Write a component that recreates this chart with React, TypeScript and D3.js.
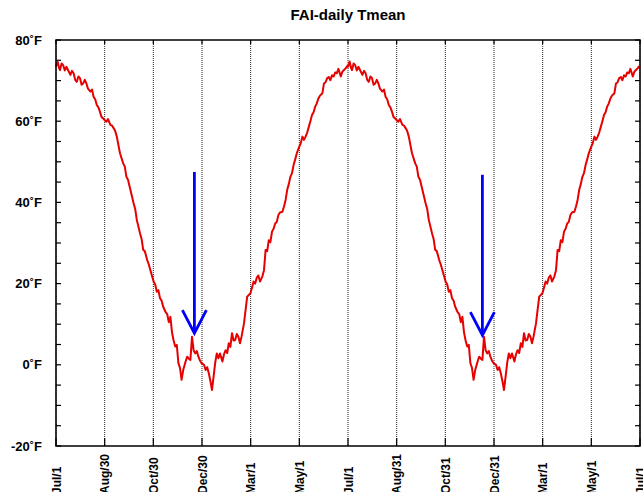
import * as d3 from "d3";

// one season of daily mean temperature (days after Jul 1)
const seasonDay = [
  0, 2, 4, 5, 7, 9, 11, 13, 15, 18, 20, 22, 24, 26, 28, 30, 32, 34, 36, 38, 40,
  43, 45, 47, 49, 51, 53, 55, 57, 59, 61, 63, 65, 68, 70, 72, 74, 76, 80, 84,
  86, 88, 90, 93, 97, 99, 101, 105, 107, 109, 111, 114, 116, 118, 122, 124, 126,
  128, 130, 132, 134, 137, 139, 141, 143, 145, 147, 149, 151, 153, 155, 157,
  159, 162, 164, 166, 168, 170, 172, 174, 176, 178, 180, 182, 185, 187, 189,
  191, 193, 195, 197, 199, 201, 203, 205, 208, 210, 212, 214, 216, 218, 220,
  222, 224, 226, 228, 230, 232, 235, 237, 239, 241, 243, 245, 247, 249, 251,
  253, 255, 258, 260, 262, 264, 266, 268, 270, 272, 274, 276, 278, 280, 283,
  285, 287, 289, 291, 293, 295, 297, 299, 301, 303, 306, 308, 310, 312, 314,
  316, 318, 320, 322, 324, 326, 328, 330, 333, 335, 337, 339, 341, 343, 345,
  347, 349, 351, 353, 356, 358, 360, 362, 364,
];
const seasonTmean = [
  73.4, 74.7, 73.0, 72.6, 74.2, 73.8, 72.5, 73.4, 72.6, 71.4, 72.4, 71.8, 70.2,
  69.7, 71.0, 70.6, 69.0, 69.3, 70.2, 69.3, 68.0, 67.3, 67.8, 66.0, 65.4, 64.0,
  63.4, 62.3, 61.0, 60.7, 60.2, 59.9, 60.5, 59.1, 58.9, 58.3, 57.6, 56.2, 52.1,
  49.6, 48.8, 46.3, 45.6, 43.1, 39.8, 38.4, 35.7, 32.4, 31.0, 28.3, 28.0, 25.8,
  24.7, 23.3, 20.5, 19.8, 18.0, 18.4, 16.4, 15.8, 14.3, 13.0, 12.5, 10.5, 11.8,
  8.0, 6.0, 4.5, 4.9, 0.4, -0.8, -3.7, -1.3, 0.8, 2.0, 1.5, 1.2, 6.9, 3.6, 2.8,
  3.4, 2.0, 1.0, 0.4, 0.0, -1.3, -0.6, -2.1, -4.0, -6.2, -2.9, 0.5, 2.8, 1.6,
  2.8, 0.8, 2.6, 3.6, 2.9, 5.3, 4.4, 7.8, 6.0, 6.1, 7.6, 6.9, 5.3, 7.0, 10.2,
  13.5, 16.8, 17.2, 17.6, 19.0, 20.5, 20.0, 21.5, 22.0, 20.5, 21.8, 23.3, 28.3,
  28.0, 30.7, 30.2, 32.8, 33.5, 34.8, 35.2, 36.9, 37.5, 37.7, 39.0, 40.6, 43.1,
  44.5, 46.3, 47.2, 49.2, 50.6, 52.1, 53.2, 54.6, 56.2, 55.4, 56.2, 57.2, 58.6,
  60.0, 61.5, 62.2, 63.6, 64.4, 65.6, 66.3, 66.9, 69.3, 69.6, 70.6, 70.9, 70.1,
  71.3, 71.0, 72.0, 71.8, 72.9, 71.0, 72.2, 72.6, 73.0, 73.6,
];
const seasonOffsets = [0, 365];

const xTickLabels = [
  "Jul/1", "Aug/30", "Oct/30", "Dec/30", "Mar/1", "May/1", "Jul/1",
  "Aug/31", "Oct/31", "Dec/31", "Mar/1", "May/1", "Jul/1",
];
const yTickValues = [80, 60, 40, 20, 0, -20];

// blue arrows: day, top temp, tip temp
const arrowDay = [173, 533];
const arrowTop = [47.5, 46.8];
const arrowTip = [7.8, 7.3];

const W = 643;
const H = 492;
const MARGIN = { top: 40, right: 3, bottom: 46, left: 56 };

export default function App() {
  const x = d3.scaleLinear().domain([0, 730]).range([MARGIN.left, W - MARGIN.right]);
  const y = d3.scaleLinear().domain([-20, 80]).range([H - MARGIN.bottom, MARGIN.top]);

  const points: [number, number][] = [];
  seasonOffsets.forEach((off) => {
    seasonDay.forEach((d, i) => points.push([d + off, seasonTmean[i]]));
  });

  const line = d3
    .line<[number, number]>()
    .x((d) => x(d[0]))
    .y((d) => y(d[1]));

  const xTicks = xTickLabels.map((_, i) => (i * 730) / 12);
  const minorY = d3.range(-20, 81, 5);
  const x0 = x.range()[0];
  const x1 = x.range()[1];
  const yTop = y.range()[1];
  const yBot = y.range()[0];
  const font = "'Liberation Sans', Arial, sans-serif";

  return (
    <svg
      width={W}
      height={H}
      style={{ position: "absolute", left: 0, top: 0, background: "#fff" }}
    >
      <text
        x={(x0 + x1) / 2}
        y={20}
        textAnchor="middle"
        fontFamily={font}
        fontWeight="bold"
        fontSize={15}
      >
        FAI-daily Tmean
      </text>

      {/* vertical dotted grid */}
      {xTicks.map((t, i) => (
        <g key={"gx" + i}>
          <line
            x1={x(t)}
            x2={x(t)}
            y1={yTop}
            y2={yBot}
            stroke="#222"
            strokeWidth={1}
            strokeDasharray="1,1"
          />
          <line x1={x(t)} x2={x(t)} y1={yBot} y2={yBot - 8} stroke="#000" strokeWidth={1.2} />
          <line x1={x(t)} x2={x(t)} y1={yTop} y2={yTop + 4} stroke="#000" strokeWidth={1.2} />
        </g>
      ))}

      {/* minor y ticks on both sides */}
      {minorY.map((v) => (
        <g key={"my" + v}>
          <line x1={x0} x2={x0 + 5} y1={y(v)} y2={y(v)} stroke="#000" strokeWidth={1.2} />
          <line x1={x1} x2={x1 - 5} y1={y(v)} y2={y(v)} stroke="#000" strokeWidth={1.2} />
        </g>
      ))}

      <path
        d={line(points) || ""}
        fill="none"
        stroke="#e60000"
        strokeWidth={2}
        strokeLinejoin="round"
      />

      {arrowDay.map((d, i) => {
        const ax = x(d);
        const tip = y(arrowTip[i]);
        return (
          <g key={"ar" + i} stroke="#0000ff" strokeWidth={2.8} fill="none">
            <line x1={ax} x2={ax} y1={y(arrowTop[i])} y2={tip} />
            <path d={`M${ax - 12},${tip - 23}L${ax},${tip}L${ax + 12},${tip - 23}`} />
          </g>
        );
      })}

      <rect
        x={x0}
        y={yTop}
        width={x1 - x0}
        height={yBot - yTop}
        fill="none"
        stroke="#000"
        strokeWidth={1.5}
      />

      {yTickValues.map((v) => (
        <text
          key={"yl" + v}
          x={42}
          y={y(v)}
          dy="0.35em"
          textAnchor="end"
          fontFamily={font}
          fontWeight="bold"
          fontSize={13}
        >
          {v + "˚F"}
        </text>
      ))}

      {xTicks.map((t, i) => (
        <text
          key={"xl" + i}
          transform={`translate(${x(t) + 4.5},494) rotate(-90)`}
          textAnchor="start"
          fontFamily={font}
          fontWeight="bold"
          fontSize={12}
        >
          {xTickLabels[i]}
        </text>
      ))}
    </svg>
  );
}
